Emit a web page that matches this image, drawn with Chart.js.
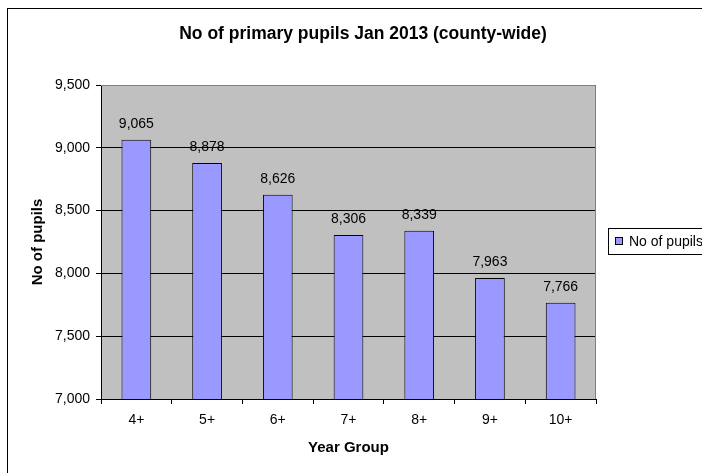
<!DOCTYPE html>
<html>
<head>
<meta charset="utf-8">
<script src="https://cdn.jsdelivr.net/npm/chart.js@4/dist/chart.umd.min.js"></script>
<style>
  html, body { margin: 0; padding: 0; background: #fff; }
  #wrap { width: 702px; height: 473px; }
</style>
</head>
<body>
<div id="wrap"><canvas id="c" width="702" height="473"></canvas></div>
<script>
const categories = ['4+', '5+', '6+', '7+', '8+', '9+', '10+'];
const pupils = [9065, 8878, 8626, 8306, 8339, 7963, 7766];
const yTicks = [7000, 7500, 8000, 8500, 9000, 9500];
const seriesName = 'No of pupils';
const chartTitle = 'No of primary pupils Jan 2013 (county-wide)';

const FONT = "'Liberation Sans', Arial, sans-serif";
const fmt = v => Number(v).toLocaleString('en-US');

Chart.defaults.color = '#000';
Chart.defaults.font.family = FONT;

// frame, plot background, title and legend box
const decor = {
  id: 'decor',
  beforeDraw(chart) {
    const { ctx, chartArea: a } = chart;
    ctx.save();
    ctx.fillStyle = '#fff';
    ctx.fillRect(0, 0, chart.width, chart.height);
    ctx.fillStyle = '#C0C0C0';
    ctx.fillRect(a.left, a.top, a.right - a.left, a.bottom - a.top);
    ctx.restore();
  },
  afterDraw(chart) {
    const { ctx, chartArea: a } = chart;
    ctx.save();
    // plot area border on top and right
    ctx.strokeStyle = '#808080';
    ctx.lineWidth = 1;
    ctx.beginPath();
    ctx.moveTo(a.left, Math.round(a.top) + 0.5);
    ctx.lineTo(Math.round(a.right) - 0.5, Math.round(a.top) + 0.5);
    ctx.lineTo(Math.round(a.right) - 0.5, a.bottom);
    ctx.stroke();
    // outer chart frame
    ctx.strokeStyle = '#000';
    ctx.strokeRect(7.5, 8.5, 800, 600);
    // title
    ctx.fillStyle = '#000';
    ctx.font = "bold 17.5px " + FONT;
    ctx.textAlign = 'center';
    ctx.textBaseline = 'middle';
    ctx.fillText(chartTitle, 363, 34);
    // legend
    const ds = chart.data.datasets[0];
    ctx.strokeStyle = '#000';
    ctx.strokeRect(608.5, 228.5, 120, 26);
    ctx.fillStyle = ds.backgroundColor;
    ctx.fillRect(615, 237, 8, 8);
    ctx.strokeRect(615.5, 237.5, 7, 7);
    ctx.fillStyle = '#000';
    ctx.font = "14px " + FONT;
    ctx.textAlign = 'left';
    ctx.textBaseline = 'middle';
    ctx.fillText(ds.label, 629, 242);
    ctx.restore();
  }
};

// value labels above each bar
const barLabels = {
  id: 'barLabels',
  afterDatasetsDraw(chart) {
    const { ctx } = chart;
    const meta = chart.getDatasetMeta(0);
    const data = chart.data.datasets[0].data;
    ctx.save();
    ctx.fillStyle = '#000';
    ctx.font = "14px " + FONT;
    ctx.textAlign = 'center';
    ctx.textBaseline = 'alphabetic';
    meta.data.forEach((bar, i) => {
      ctx.fillText(fmt(data[i]), bar.x, bar.y - 12);
    });
    ctx.restore();
  }
};

new Chart(document.getElementById('c'), {
  type: 'bar',
  data: {
    labels: categories,
    datasets: [{
      label: seriesName,
      data: pupils,
      backgroundColor: '#9999FF',
      borderColor: '#000',
      borderWidth: 1,
      barPercentage: 0.42,
      categoryPercentage: 1
    }]
  },
  options: {
    responsive: false,
    animation: false,
    devicePixelRatio: 1,
    layout: { padding: { top: 85, left: 0, right: 106, bottom: 0 } },
    plugins: {
      legend: { display: false },
      title: { display: false },
      tooltip: { enabled: false }
    },
    scales: {
      x: {
        grid: { display: true, offset: true, drawOnChartArea: false, color: '#000', tickLength: 5 },
        border: { display: true, color: '#000', width: 1 },
        ticks: { font: { size: 14 }, padding: 8, color: '#000' },
        title: { display: true, text: 'Year Group', font: { size: 15, weight: 'bold' }, padding: { top: 0, bottom: 16 }, color: '#000' },
        afterFit(scale) { scale.height = 74; }
      },
      y: {
        min: yTicks[0],
        max: yTicks[yTicks.length - 1],
        afterBuildTicks(scale) { scale.ticks = yTicks.map(v => ({ value: v })); },
        grid: { color: '#000', lineWidth: 1, tickLength: 5 },
        border: { display: true, color: '#000', width: 1 },
        ticks: { font: { size: 14 }, padding: 6, color: '#000', callback: v => fmt(v) },
        title: { display: true, text: 'No of pupils', font: { size: 15, weight: 'bold' }, padding: { top: 29, bottom: 0 }, color: '#000' },
        afterFit(scale) { scale.width = 101; }
      }
    }
  },
  plugins: [decor, barLabels]
});
</script>
</body>
</html>
